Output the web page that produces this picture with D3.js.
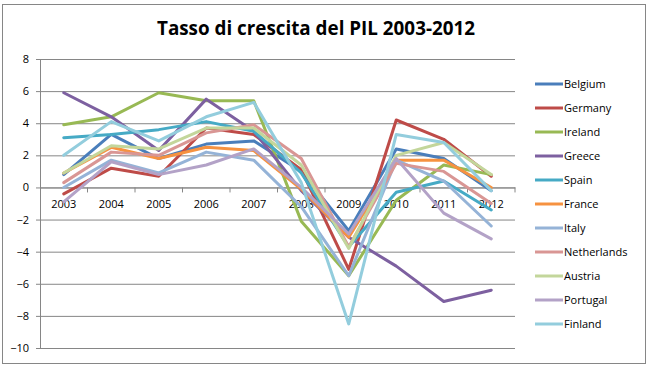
<!DOCTYPE html>
<html>
<head>
<meta charset="utf-8">
<script src="https://cdn.jsdelivr.net/npm/d3@7"></script>
<style>
  body { margin: 0; background: #fff; }
  text { font-family: "Open Sans", Lato, sans-serif; fill: #000; }
</style>
</head>
<body>
<svg id="chart" width="650" height="372"></svg>
<script>
// data (GDP growth %, 2003-2012)
const years = ["2003","2004","2005","2006","2007","2008","2009","2010","2011","2012"];
const countries = ["Belgium","Germany","Ireland","Greece","Spain","France","Italy","Netherlands","Austria","Portugal","Finland"];
const belgium     = [0.8, 3.3, 1.8, 2.7, 2.9, 1.0, -2.7, 2.4, 1.8, -0.2];
const germany     = [-0.4, 1.2, 0.7, 3.7, 3.3, 1.1, -5.1, 4.2, 3.0, 0.7];
const ireland     = [3.9, 4.4, 5.9, 5.4, 5.4, -2.1, -5.5, -0.8, 1.4, 0.8];
const greece      = [5.9, 4.4, 2.3, 5.5, 3.5, -0.2, -3.1, -4.9, -7.1, -6.4];
const spain       = [3.1, 3.3, 3.6, 4.1, 3.5, 0.9, -3.7, -0.3, 0.4, -1.4];
const france      = [0.9, 2.5, 1.8, 2.5, 2.3, -0.1, -3.1, 1.7, 1.7, 0.0];
const italy       = [0.0, 1.7, 0.9, 2.2, 1.7, -1.2, -5.5, 1.7, 0.4, -2.4];
const netherlands = [0.3, 2.2, 2.0, 3.4, 3.9, 1.8, -3.7, 1.5, 1.0, -1.0];
const austria     = [0.9, 2.6, 2.4, 3.7, 3.7, 1.4, -3.8, 2.0, 2.8, 0.8];
const portugal    = [-0.9, 1.6, 0.8, 1.4, 2.4, 0.0, -2.9, 1.8, -1.6, -3.2];
const finland     = [2.0, 4.1, 2.9, 4.4, 5.3, 0.3, -8.5, 3.3, 2.8, -0.2];
const yTicks = [-10, -8, -6, -4, -2, 0, 2, 4, 6, 8];

const seriesValues = [belgium, germany, ireland, greece, spain, france, italy, netherlands, austria, portugal, finland];
const colors = ["#4A7EBB","#BE4B48","#98B954","#7D60A0","#46AAC5","#F69240",
                "#95B3D7","#D99694","#C3D69B","#B3A2C7","#93CDDD"];

const svg = d3.select("#chart");

// chart frame
svg.append("rect")
  .attr("x", 2.5).attr("y", 4.5).attr("width", 643).attr("height", 359)
  .attr("fill", "#fff").attr("stroke", "#868686").attr("stroke-width", 1);

svg.append("text")
  .attr("x", 316).attr("y", 35)
  .attr("text-anchor", "middle")
  .attr("font-family", "Lato, sans-serif")
  .attr("font-size", 20).attr("font-weight", "bold")
  .attr("textLength", 318).attr("lengthAdjust", "spacingAndGlyphs")
  .text("Tasso di crescita del PIL 2003-2012");

const x = d3.scaleBand().domain(years).range([40, 515]).padding(0);
const y = d3.scaleLinear().domain([-10, 8]).range([348, 59]);

// gridlines + y axis
const yAxis = svg.append("g")
  .attr("transform", "translate(40,0)")
  .call(d3.axisLeft(y).tickValues(yTicks).tickSize(4).tickSizeOuter(0).tickPadding(7));
yAxis.select(".domain").attr("stroke", "#868686");
yAxis.selectAll(".tick line").attr("stroke", "#868686");
yAxis.selectAll(".tick text").attr("font-size", 11).attr("font-family", "'Open Sans', sans-serif").attr("fill", "#000");
yAxis.selectAll(".tick").append("line")
  .attr("x1", 0).attr("x2", 475)
  .attr("stroke", "#868686").attr("stroke-width", 1);

// x axis sits on zero
const xAxis = svg.append("g")
  .attr("transform", `translate(0,${y(0)})`)
  .call(d3.axisBottom(x).tickSize(0).tickPadding(13));
xAxis.select(".domain").attr("stroke", "#868686");
xAxis.selectAll(".tick text").attr("font-size", 11).attr("font-family", "'Open Sans', sans-serif")
  .attr("fill", "#000");
// category separators
xAxis.selectAll(".sep")
  .data(years.slice(1).concat(["end"]))
  .enter().append("line")
  .attr("x1", (d, i) => x(years[0]) + x.bandwidth() * (i + 1))
  .attr("x2", (d, i) => x(years[0]) + x.bandwidth() * (i + 1))
  .attr("y1", 0).attr("y2", 5)
  .attr("stroke", "#868686");

const line = d3.line()
  .x((d, i) => x(years[i]) + x.bandwidth() / 2)
  .y(d => y(d));

svg.append("g").selectAll("path")
  .data(seriesValues)
  .enter().append("path")
  .attr("d", d => line(d))
  .attr("fill", "none")
  .attr("stroke", (d, i) => colors[i])
  .attr("stroke-width", 3)
  .attr("stroke-linejoin", "round")
  .attr("stroke-linecap", "round");

// legend
const legend = svg.append("g").selectAll("g")
  .data(countries)
  .enter().append("g")
  .attr("transform", (d, i) => `translate(535,${84 + i * 24})`);
legend.append("line")
  .attr("x1", 0).attr("x2", 28)
  .attr("stroke", (d, i) => colors[i]).attr("stroke-width", 3);
legend.append("text")
  .attr("x", 29).attr("y", 4)
  .attr("font-size", 11)
  .text(d => d);
</script>
</body>
</html>
